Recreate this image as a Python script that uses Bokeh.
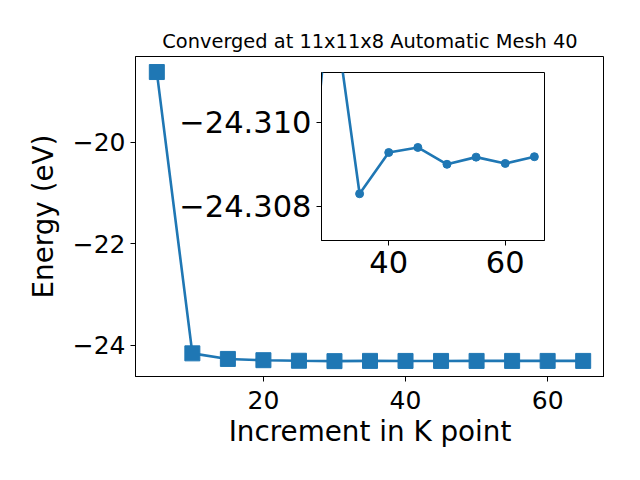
from bokeh.plotting import figure
from bokeh.layouts import column
from bokeh.models import FixedTicker, CustomJSTickFormatter, Range1d, ColumnDataSource
from bokeh.embed import file_html
from bokeh.resources import INLINE

# ---- data ----
k_points = [5, 10, 15, 20, 25, 30, 35, 40, 45, 50, 55, 60, 65]
energy = [-18.62, -24.16, -24.27, -24.295, -24.306, -24.3133, -24.3083,
          -24.30928, -24.3094, -24.3090, -24.30917, -24.30902, -24.30918]

main_xticks = [20, 40, 60]
main_xlabels = ["20", "40", "60"]
main_yticks = [-24, -22, -20]
main_ylabels = ["\u221224", "\u221222", "\u221220"]
inset_xticks = [40, 60]
inset_xlabels = ["40", "60"]
inset_yticks = [-24.310, -24.308]
inset_ylabels = ["\u221224.310", "\u221224.308"]

title_text = "Converged at 11x11x8 Automatic Mesh 40"
xlabel = "Increment in K point"
ylabel = "Energy (eV)"

COLOR = "#1f77b4"
FONT = "DejaVu Sans"

src = ColumnDataSource(dict(x=k_points, y=energy))


def fmt(tick_vals, labels):
    return CustomJSTickFormatter(args=dict(tv=tick_vals, lb=labels), code="""
        for (let i = 0; i < tv.length; i++) {
            if (Math.abs(tv[i] - tick) < 1e-9) return lb[i];
        }
        return '';
    """)


def style_axes(fig, size):
    for ax in (fig.xaxis[0], fig.yaxis[0]):
        ax.axis_line_color = "black"
        ax.major_tick_line_color = "black"
        ax.major_tick_out = 5
        ax.major_tick_in = 0
        ax.minor_tick_line_color = None
        ax.major_label_text_font = FONT
        ax.major_label_text_font_size = size
        ax.major_label_text_color = "black"
        ax.major_label_standoff = 5
        ax.axis_label_text_font = FONT
        ax.axis_label_text_font_style = "normal"
        ax.axis_label_text_color = "black"
    fig.grid.visible = False
    fig.outline_line_color = "black"
    fig.outline_line_width = 1


# ---- main figure ----
MAIN_LEFT = 180
p = figure(frame_width=469, frame_height=320, output_backend="svg",
           toolbar_location=None,
           x_range=Range1d(2, 68), y_range=Range1d(-24.616, -18.314),
           min_border_left=MAIN_LEFT, min_border_right=20, min_border_top=56,
           min_border_bottom=100)
p.border_fill_alpha = 0
p.title.text = title_text
p.title.align = "center"
p.title.text_font = FONT
p.title.text_font_size = "19.4px"
p.title.text_font_style = "normal"
p.title.text_color = "black"
p.title.standoff = 7
style_axes(p, "25px")
p.xaxis[0].ticker = FixedTicker(ticks=main_xticks)
p.yaxis[0].ticker = FixedTicker(ticks=main_yticks)
p.xaxis[0].formatter = fmt(main_xticks, main_xlabels)
p.yaxis[0].formatter = fmt(main_yticks, main_ylabels)
p.xaxis[0].major_label_standoff = 9
p.xaxis[0].axis_label = xlabel
p.yaxis[0].axis_label = ylabel
p.xaxis[0].axis_label_text_font_size = "27.8px"
p.yaxis[0].axis_label_text_font_size = "27.8px"
p.xaxis[0].axis_label_standoff = 3
p.yaxis[0].axis_label_standoff = 10

p.line("x", "y", source=src, line_color=COLOR, line_width=2.6)
p.scatter("x", "y", source=src, marker="square", size=15,
          fill_color=COLOR, line_color=COLOR)
p.styles = {"position": "relative", "left": f"{135 - MAIN_LEFT - 20}px", "top": "0px"}

# ---- inset figure ----
INSET_LEFT = 200
INSET_TOP = 10
inset = figure(frame_width=223, frame_height=168, output_backend="svg",
               toolbar_location=None,
               x_range=Range1d(28.46, 66.74),
               y_range=Range1d(-24.30719, -24.31118),
               min_border_left=INSET_LEFT, min_border_right=30,
               min_border_top=INSET_TOP, min_border_bottom=60)
inset.border_fill_alpha = 0
inset.background_fill_color = "white"
style_axes(inset, "30.5px")
inset.xaxis[0].ticker = FixedTicker(ticks=inset_xticks)
inset.yaxis[0].ticker = FixedTicker(ticks=inset_yticks)
inset.xaxis[0].formatter = fmt(inset_xticks, inset_xlabels)
inset.yaxis[0].formatter = fmt(inset_yticks, inset_ylabels)
inset.line("x", "y", source=src, line_color=COLOR, line_width=2.6)
inset.scatter("x", "y", source=src, marker="circle", size=8,
              fill_color=COLOR, line_color=COLOR)
inset.styles = {"position": "absolute", "left": f"{321 - INSET_LEFT}px",
                "top": f"{72 - INSET_TOP}px"}

layout = column(p, inset, styles={"position": "relative"})

open("out.html", "w").write(file_html(layout, INLINE))
